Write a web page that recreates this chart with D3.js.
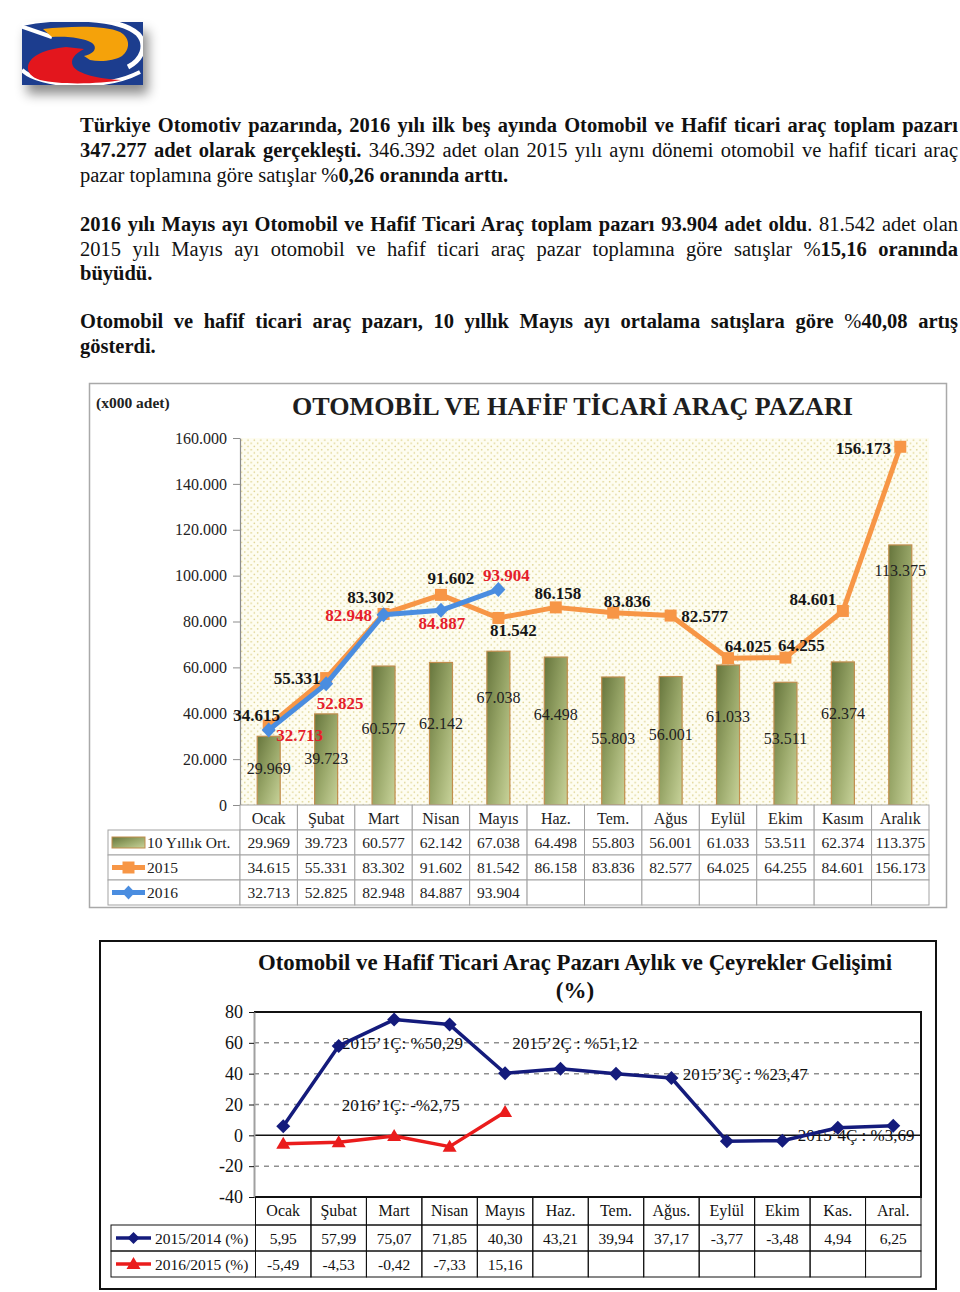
<!DOCTYPE html>
<html><head><meta charset="utf-8">
<script src="https://cdn.jsdelivr.net/npm/d3@7"></script>
<style>
html,body{margin:0;padding:0;background:#fff;}
svg{display:block;}
text{font-family:"Liberation Serif","Times New Roman",serif;}
</style></head><body>
<svg id="page" width="960" height="1292"></svg>
<script>
// ---------------- DATA ----------------
const months1 = ["Ocak","Şubat","Mart","Nisan","Mayıs","Haz.","Tem.","Ağus","Eylül","Ekim","Kasım","Aralık"];
const avg10 = [29969,39723,60577,62142,67038,64498,55803,56001,61033,53511,62374,113375];
const sales2015 = [34615,55331,83302,91602,81542,86158,83836,82577,64025,64255,84601,156173];
const sales2016 = [32713,52825,82948,84887,93904];
const yTicks1 = [0,20000,40000,60000,80000,100000,120000,140000,160000];
const rowNames1 = ["10 Yıllık Ort.","2015","2016"];

const months2 = ["Ocak","Şubat","Mart","Nisan","Mayıs","Haz.","Tem.","Ağus.","Eylül","Ekim","Kas.","Aral."];
const chg2015 = [5.95,57.99,75.07,71.85,40.30,43.21,39.94,37.17,-3.77,-3.48,4.94,6.25];
const chg2016 = [-5.49,-4.53,-0.42,-7.33,15.16];
const yTicks2 = [-40,-20,0,20,40,60,80];
const rowNames2 = ["2015/2014 (%)","2016/2015 (%)"];
const quarterTexts = ["2015’1Ç: %50,29","2015’2Ç : %51,12","2015’3Ç : %23,47","2016’1Ç: -%2,75","2015’4Ç : %3,69"];

// ---------------- LAYOUT (label placement, not data) ----------------
const barLabelDy = [32,45,62,61,46,57,61,58,51,56,52,26];
const lab2015Off = [[-12,-11],[-29,0],[-13,-17],[10,-17],[15,12],[2,-14],[14,-12],[34,0],[20,-12],[16,-13],[-30,-12],[-37,1]];
const lab2016Off = [[31,5],[14,19],[-35,0],[1,13],[8,-15]];
const quarterPos = [[2.65,60],[5.76,60],[8.83,40],[2.62,20],[10.83,0]]; // [month units, value]

const paraLines = [
 {y:132, j:true,  seg:[["Türkiye Otomotiv pazarında, 2016 yılı ilk beş ayında Otomobil ve Hafif ticari araç toplam pazarı",1]]},
 {y:157, j:true,  seg:[["347.277 adet olarak gerçekleşti.",1],[" 346.392 adet olan 2015 yılı aynı dönemi otomobil ve hafif ticari araç",0]]},
 {y:182, j:false, seg:[["pazar toplamına göre satışlar %",0],["0,26 oranında arttı.",1]]},
 {y:231, j:true,  seg:[["2016 yılı Mayıs ayı Otomobil ve Hafif Ticari Araç toplam pazarı 93.904 adet oldu",1],[". 81.542 adet olan",0]]},
 {y:256, j:true,  seg:[["2015 yılı Mayıs ayı otomobil ve hafif ticari araç pazar toplamına göre satışlar %",0],["15,16 oranında",1]]},
 {y:280, j:false, seg:[["büyüdü.",1]]},
 {y:328, j:true,  seg:[["Otomobil ve hafif ticari araç pazarı, 10 yıllık Mayıs ayı ortalama satışlara göre ",1],["%",0],["40,08 artış",1]]},
 {y:353, j:false, seg:[["gösterdi.",1]]}
];

const loc = d3.formatLocale({decimal:",", thousands:".", grouping:[3], currency:["",""], minus:"-"});
const fmtInt = loc.format(",");
const fmtPct = loc.format(".2f");

const svg = d3.select("#page");
const defs = svg.append("defs");
const FONT = "Liberation Serif";

// shadow filter
const sh = defs.append("filter").attr("id","shadow").attr("x","-30%").attr("y","-30%").attr("width","170%").attr("height","190%");
sh.append("feDropShadow").attr("dx",5).attr("dy",9).attr("stdDeviation",6).attr("flood-color","#000").attr("flood-opacity",0.45);

// dotted pattern
const pat = defs.append("pattern").attr("id","dots").attr("width",6.4).attr("height",6.4).attr("patternUnits","userSpaceOnUse");
pat.append("rect").attr("width",6.4).attr("height",6.4).attr("fill","#fefdf1");
pat.append("circle").attr("cx",1.6).attr("cy",1.6).attr("r",0.8).attr("fill","#dccf86");
pat.append("circle").attr("cx",4.8).attr("cy",4.8).attr("r",0.8).attr("fill","#dccf86");

// bar gradient
const bg = defs.append("linearGradient").attr("id","barGrad").attr("x1",0).attr("y1",0).attr("x2",1).attr("y2",1);
bg.append("stop").attr("offset","0%").attr("stop-color","#66753c");
bg.append("stop").attr("offset","50%").attr("stop-color","#98a668");
bg.append("stop").attr("offset","100%").attr("stop-color","#c8d39a");

// ---------------- LOGO ----------------
const clip = defs.append("clipPath").attr("id","logoClip");
clip.append("rect").attr("x",22).attr("y",22).attr("width",121).attr("height",63);
const logoG = svg.append("g").attr("filter","url(#shadow)");
logoG.append("rect").attr("x",22).attr("y",22).attr("width",121).attr("height",63).attr("fill","#1c3c8e");
const logoIn = svg.append("g").attr("clip-path","url(#logoClip)");
logoIn.append("path").attr("d","M20,24 C55,16 118,16 138,34 C148,45 142,60 128,67").attr("fill","none").attr("stroke","#fff").attr("stroke-width",5);
logoIn.append("path").attr("d","M22,70 C40,88 105,90 140,72").attr("fill","none").attr("stroke","#fff").attr("stroke-width",4);
logoIn.append("path").attr("d","M20,26 L52,37").attr("stroke","#fff").attr("stroke-width",4);
logoIn.append("path").attr("d","M43,29 C70,26 105,25 120,32 C131,38 130,50 122,56 C114,61 100,62 90,60 L84,56 C92,54 97,50 94,45 C90,39 70,36 52,37 Z").attr("fill","#f5a20a");
logoIn.append("path").attr("d","M28,66 C30,56 45,49 66,47 L84,49 C74,54 70,60 73,66 C77,74 100,79 121,80 C100,84 60,85 40,80 C31,77 27,72 28,66 Z").attr("fill","#e3161d");

// ---------------- PARAGRAPHS ----------------
const TW = 878;
const para = svg.append("g").attr("font-size",20.5).attr("fill","#111");
const lines = para.selectAll("text").data(paraLines).join("text").attr("x",80).attr("y",d=>d.y).attr("font-family",FONT);
lines.each(function(d){
  d3.select(this).selectAll("tspan").data(d.seg).join("tspan").text(s=>s[0]).attr("font-weight",s=>s[1]?"bold":"normal");
});
lines.each(function(d){
  if(d.j){
    const len = this.getComputedTextLength();
    const spaces = (this.textContent.match(/ /g)||[]).length;
    d3.select(this).style("word-spacing", ((TW-len)/spaces)+"px");
  }
});

// ---------------- CHART 1 ----------------
const c1 = {left:240, right:929, top:438, bottom:805};
const x1 = d3.scaleBand().domain(months1).range([c1.left,c1.right]);
const y1 = d3.scaleLinear().domain([0,160000]).range([c1.bottom,c1.top]);
const cx1 = i => x1(months1[i]) + x1.bandwidth()/2;
const g1 = svg.append("g");
g1.append("rect").attr("x",89.5).attr("y",383.5).attr("width",857).attr("height",524).attr("fill","#fff").attr("stroke","#a9a9a9").attr("stroke-width",1.5);
g1.append("text").attr("x",96).attr("y",408).attr("font-size",15.5).attr("font-weight","bold").attr("fill","#222").attr("font-family",FONT).text("(x000 adet)");
g1.append("text").attr("x",572.5).attr("y",415).attr("text-anchor","middle").attr("font-size",26).attr("font-weight","bold").attr("fill","#1e1e1e").attr("font-family",FONT)
  .attr("textLength",561).attr("lengthAdjust","spacingAndGlyphs").text("OTOMOBİL VE HAFİF TİCARİ ARAÇ PAZARI");
g1.append("rect").attr("x",c1.left).attr("y",c1.top).attr("width",c1.right-c1.left).attr("height",c1.bottom-c1.top).attr("fill","url(#dots)");

const ax1 = g1.append("g").attr("transform",`translate(${c1.left},0)`)
  .call(d3.axisLeft(y1).tickValues(yTicks1).tickFormat(fmtInt).tickSize(7).tickSizeOuter(0).tickPadding(6));
ax1.attr("font-family",FONT).attr("font-size",16);
ax1.select(".domain").attr("stroke","#8d8d8d").attr("stroke-width",1.2);
ax1.selectAll(".tick line").attr("stroke","#8d8d8d");
ax1.selectAll(".tick text").attr("fill","#222");

const bw = 23;
g1.selectAll("rect.bar").data(avg10).join("rect").attr("class","bar")
  .attr("x",(d,i)=>cx1(i)-bw/2).attr("y",d=>y1(d)).attr("width",bw).attr("height",d=>y1(0)-y1(d))
  .attr("fill","url(#barGrad)").attr("stroke","#c18d4d").attr("stroke-width",1.2);
g1.selectAll("text.blab").data(avg10).join("text").attr("class","blab")
  .attr("x",(d,i)=>cx1(i)).attr("y",(d,i)=>y1(d)+barLabelDy[i]+5.5).attr("text-anchor","middle")
  .attr("font-size",16).attr("fill","#222").attr("font-family",FONT).text(d=>fmtInt(d));

const ORANGE = "#f79646", BLUE = "#4a8de0", RED = "#e5202a";
const line1 = d3.line().x((d,i)=>cx1(i)).y(d=>y1(d));
g1.append("path").datum(sales2015).attr("d",line1).attr("fill","none").attr("stroke",ORANGE).attr("stroke-width",5).attr("stroke-linejoin","round");
g1.selectAll("path.sq").data(sales2015).join("path").attr("class","sq")
  .attr("transform",(d,i)=>`translate(${cx1(i)},${y1(d)})`).attr("d","M-6,-6h12v12h-12z").attr("fill",ORANGE);
g1.append("path").datum(sales2016).attr("d",line1).attr("fill","none").attr("stroke",BLUE).attr("stroke-width",5).attr("stroke-linejoin","round");
g1.selectAll("path.dm").data(sales2016).join("path").attr("class","dm")
  .attr("transform",(d,i)=>`translate(${cx1(i)},${y1(d)})`).attr("d","M0,-7.5L7,0L0,7.5L-7,0Z").attr("fill",BLUE);

g1.selectAll("text.l15").data(sales2015).join("text").attr("class","l15")
  .attr("x",(d,i)=>cx1(i)+lab2015Off[i][0]).attr("y",(d,i)=>y1(d)+lab2015Off[i][1]+6).attr("text-anchor","middle")
  .attr("font-size",17).attr("font-weight","bold").attr("fill","#161616").attr("font-family",FONT).text(d=>fmtInt(d));
g1.selectAll("text.l16").data(sales2016).join("text").attr("class","l16")
  .attr("x",(d,i)=>cx1(i)+lab2016Off[i][0]).attr("y",(d,i)=>y1(d)+lab2016Off[i][1]+6).attr("text-anchor","middle")
  .attr("font-size",17).attr("font-weight","bold").attr("fill",RED).attr("font-family",FONT).text(d=>fmtInt(d));

// data table 1
const TB1 = "#a3a3a3";
const hdr1 = g1.append("g");
hdr1.selectAll("rect").data(months1).join("rect").attr("x",d=>x1(d)).attr("y",805).attr("width",x1.bandwidth()).attr("height",25)
  .attr("fill","#fff").attr("stroke",TB1);
hdr1.selectAll("text").data(months1).join("text").attr("x",d=>x1(d)+x1.bandwidth()/2).attr("y",823.5).attr("text-anchor","middle")
  .attr("font-size",16).attr("fill","#222").attr("font-family",FONT).text(d=>d);
const rows1 = [avg10, sales2015, sales2016];
rows1.forEach((vals,r)=>{
  const yTop = 830 + r*25;
  const rg = g1.append("g");
  rg.append("rect").attr("x",108).attr("y",yTop).attr("width",132).attr("height",25).attr("fill","#fff").attr("stroke",TB1);
  rg.selectAll("rect.c").data(months1).join("rect").attr("class","c").attr("x",d=>x1(d)).attr("y",yTop).attr("width",x1.bandwidth()).attr("height",25)
    .attr("fill","#fff").attr("stroke",TB1);
  rg.selectAll("text.v").data(vals).join("text").attr("class","v").attr("x",(d,i)=>cx1(i)).attr("y",yTop+18).attr("text-anchor","middle")
    .attr("font-size",15.5).attr("fill","#222").attr("font-family",FONT).text(d=>fmtInt(d));
  rg.append("text").attr("x",147).attr("y",yTop+18).attr("font-size",15.5).attr("fill","#222").attr("font-family",FONT).text(rowNames1[r]);
  const sy = yTop + 12.5;
  if(r===0){
    rg.append("rect").attr("x",112).attr("y",sy-5.5).attr("width",33).attr("height",11).attr("fill","url(#barGrad)").attr("stroke","#c18d4d");
  } else if(r===1){
    rg.append("line").attr("x1",112).attr("x2",145).attr("y1",sy).attr("y2",sy).attr("stroke",ORANGE).attr("stroke-width",5);
    rg.append("path").attr("transform",`translate(128.5,${sy})`).attr("d","M-6,-6h12v12h-12z").attr("fill",ORANGE);
  } else {
    rg.append("line").attr("x1",112).attr("x2",145).attr("y1",sy).attr("y2",sy).attr("stroke",BLUE).attr("stroke-width",5);
    rg.append("path").attr("transform",`translate(128.5,${sy})`).attr("d","M0,-7L6.5,0L0,7L-6.5,0Z").attr("fill",BLUE);
  }
});

// ---------------- CHART 2 ----------------
const c2 = {left:254, right:921, top:1012, bottom:1197};
const x2 = d3.scaleBand().domain(months2).range([255.5,921]);
const y2 = d3.scaleLinear().domain([-40,80]).range([c2.bottom,c2.top]);
const cx2 = i => x2(months2[i]) + x2.bandwidth()/2;
const xm = d3.scaleLinear().domain([0,12]).range([255.5,921]);
const g2 = svg.append("g");
g2.append("rect").attr("x",100).attr("y",941).attr("width",836).attr("height",348).attr("fill","#fff").attr("stroke","#111").attr("stroke-width",2);
g2.append("text").attr("x",575).attr("y",970).attr("text-anchor","middle").attr("font-size",23).attr("font-weight","bold").attr("fill","#111").attr("font-family",FONT)
  .attr("textLength",634).attr("lengthAdjust","spacingAndGlyphs").text("Otomobil ve Hafif Ticari Araç Pazarı Aylık ve Çeyrekler Gelişimi");
g2.append("text").attr("x",575).attr("y",998).attr("text-anchor","middle").attr("font-size",23).attr("font-weight","bold").attr("fill","#111").attr("font-family",FONT).text("(%)");

// grid
g2.selectAll("line.grid").data(yTicks2.filter(v=>v!==0 && v!==80 && v!==-40)).join("line").attr("class","grid")
  .attr("x1",c2.left).attr("x2",c2.right).attr("y1",d=>y2(d)).attr("y2",d=>y2(d))
  .attr("stroke","#8f8f8f").attr("stroke-width",1.5).attr("stroke-dasharray","5,5");
g2.append("line").attr("x1",c2.left).attr("x2",c2.right).attr("y1",y2(0)).attr("y2",y2(0)).attr("stroke","#111").attr("stroke-width",1.5);
g2.append("path").attr("d",`M${c2.left},${c2.top}H${c2.right}V${c2.bottom}H${c2.left}`).attr("fill","none").attr("stroke","#111").attr("stroke-width",2);

const ax2 = g2.append("g").attr("transform",`translate(${c2.left},0)`)
  .call(d3.axisLeft(y2).tickValues(yTicks2).tickFormat(d=>loc.format("d")(d)).tickSize(5).tickSizeOuter(0).tickPadding(6));
ax2.attr("font-family",FONT).attr("font-size",18);
ax2.select(".domain").attr("stroke","#a0a0a0").attr("stroke-width",2);
ax2.selectAll(".tick line").attr("stroke","#111");
ax2.selectAll(".tick text").attr("fill","#111");

// quarter notes
g2.selectAll("text.q").data(quarterTexts).join("text").attr("class","q")
  .attr("x",(d,i)=>xm(quarterPos[i][0])).attr("y",(d,i)=>y2(quarterPos[i][1])+6).attr("text-anchor","middle")
  .attr("font-size",17).attr("fill","#111").attr("font-family",FONT).text(d=>d);

const NAVY = "#141b7c", RED2 = "#ea1c1c";
const line2 = d3.line().x((d,i)=>cx2(i)).y(d=>y2(d));
g2.append("path").datum(chg2015).attr("d",line2).attr("fill","none").attr("stroke",NAVY).attr("stroke-width",3.5).attr("stroke-linejoin","round");
g2.selectAll("path.nd").data(chg2015).join("path").attr("class","nd")
  .attr("transform",(d,i)=>`translate(${cx2(i)},${y2(d)})`).attr("d","M0,-7L7,0L0,7L-7,0Z").attr("fill",NAVY);
g2.append("path").datum(chg2016).attr("d",line2).attr("fill","none").attr("stroke",RED2).attr("stroke-width",3.5).attr("stroke-linejoin","round");
g2.selectAll("path.rt").data(chg2016).join("path").attr("class","rt")
  .attr("transform",(d,i)=>`translate(${cx2(i)},${y2(d)})`).attr("d","M0,-7L7,5L-7,5Z").attr("fill",RED2);

// data table 2
const TB2 = "#111";
const hdr2 = g2.append("g");
hdr2.selectAll("rect").data(months2).join("rect").attr("x",d=>x2(d)).attr("y",1197).attr("width",x2.bandwidth()).attr("height",28)
  .attr("fill","none").attr("stroke",TB2).attr("stroke-width",1);
hdr2.selectAll("text").data(months2).join("text").attr("x",d=>x2(d)+x2.bandwidth()/2).attr("y",1216).attr("text-anchor","middle")
  .attr("font-size",16).attr("fill","#111").attr("font-family",FONT).text(d=>d);
const rows2 = [chg2015, chg2016];
rows2.forEach((vals,r)=>{
  const yTop = 1225 + r*26;
  const rg = g2.append("g");
  rg.append("rect").attr("x",111).attr("y",yTop).attr("width",144.5).attr("height",26).attr("fill","none").attr("stroke",TB2);
  rg.selectAll("rect.c").data(months2).join("rect").attr("class","c").attr("x",d=>x2(d)).attr("y",yTop).attr("width",x2.bandwidth()).attr("height",26)
    .attr("fill","none").attr("stroke",TB2);
  rg.selectAll("text.v").data(vals).join("text").attr("class","v").attr("x",(d,i)=>cx2(i)).attr("y",yTop+18.5).attr("text-anchor","middle")
    .attr("font-size",15.5).attr("fill","#111").attr("font-family",FONT).text(d=>fmtPct(d));
  rg.append("text").attr("x",155).attr("y",yTop+19).attr("font-size",15.5).attr("fill","#111").attr("font-family",FONT).text(rowNames2[r]);
  const sy = yTop + 13;
  if(r===0){
    rg.append("line").attr("x1",116).attr("x2",151).attr("y1",sy).attr("y2",sy).attr("stroke",NAVY).attr("stroke-width",3.5);
    rg.append("path").attr("transform",`translate(133.5,${sy})`).attr("d","M0,-6L6,0L0,6L-6,0Z").attr("fill",NAVY);
  } else {
    rg.append("line").attr("x1",116).attr("x2",151).attr("y1",sy).attr("y2",sy).attr("stroke",RED2).attr("stroke-width",3.5);
    rg.append("path").attr("transform",`translate(133.5,${sy})`).attr("d","M0,-7L7,5L-7,5Z").attr("fill",RED2);
  }
});
</script>
</body></html>
